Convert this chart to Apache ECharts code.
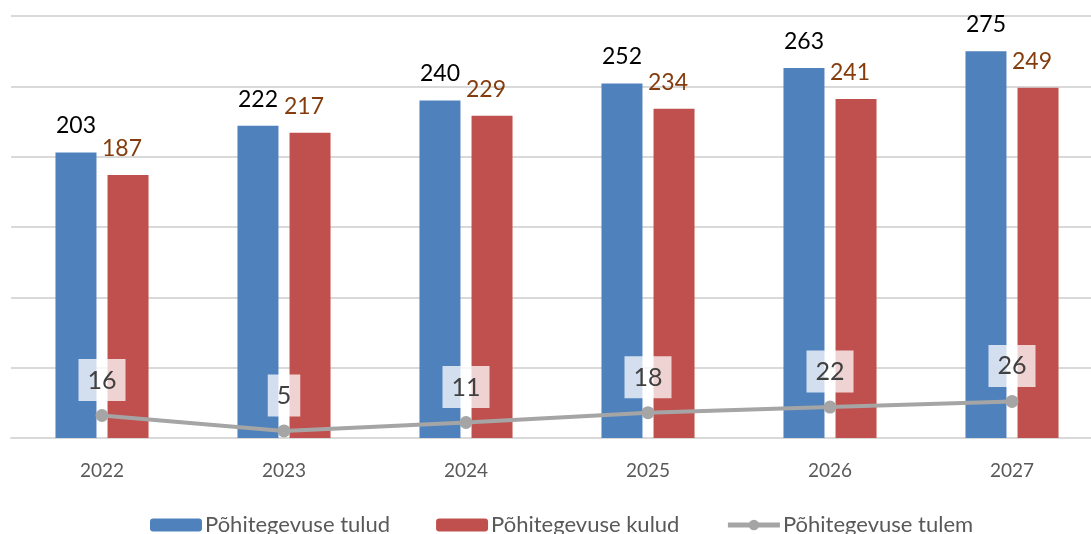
<!DOCTYPE html>
<html>
<head>
<meta charset="utf-8">
<script src="https://cdn.jsdelivr.net/npm/echarts@6/dist/echarts.min.js"></script>
<style>
  html, body { margin: 0; padding: 0; background: #fff; overflow: hidden; }
  #chart { width: 1110px; height: 534px; }
</style>
</head>
<body>
<div id="chart"></div>
<script>
// aastad
const years = ['2022', '2023', '2024', '2025', '2026', '2027']
// põhitegevuse tulud / kulud / tulem
const tulud = [203, 222, 240, 252, 263, 275]
const kulud = [187, 217, 229, 234, 241, 249]
const tulem = [16, 5, 11, 18, 22, 26]

const font = 'Lato, "Open Sans", sans-serif'

const chart = echarts.init(document.getElementById('chart'))
chart.setOption({
  animation: false,
  textStyle: { fontFamily: font },
  grid: { left: 11, top: 16, right: 7, height: 422, containLabel: false },
  legend: {
    bottom: -7,
    left: 145,
    itemWidth: 52,
    itemHeight: 13,
    itemGap: 46,
    textStyle: { fontSize: 22, color: '#595959', fontFamily: font, padding: [0, 0, 0, -2] },
    data: [
      'Põhitegevuse tulud',
      'Põhitegevuse kulud',
      { name: 'Põhitegevuse tulem', lineStyle: { width: 5 } }
    ]
  },
  xAxis: {
    type: 'category',
    data: years,
    axisLine: { lineStyle: { color: '#d9d9d9', width: 2 } },
    axisTick: { show: false },
    axisLabel: { fontSize: 19, color: '#595959', margin: 23 }
  },
  yAxis: {
    type: 'value',
    min: 0,
    max: 300,
    interval: 50,
    axisLabel: { show: false },
    axisLine: { show: false },
    axisTick: { show: false },
    splitLine: { lineStyle: { color: '#d9d9d9', width: 2 } }
  },
  series: [
    {
      name: 'Põhitegevuse tulud',
      type: 'bar',
      data: tulud,
      barWidth: 41,
      barGap: '27%',
      itemStyle: { color: '#4f81bd' },
      label: { show: true, position: 'top', distance: 15, fontSize: 23, color: '#000' }
    },
    {
      name: 'Põhitegevuse kulud',
      type: 'bar',
      data: kulud,
      barWidth: 41,
      itemStyle: { color: '#c0504d' },
      label: { show: true, position: 'top', distance: 15, offset: [-6, 0], fontSize: 23, color: '#843c0c' }
    },
    {
      name: 'Põhitegevuse tulem',
      type: 'line',
      data: tulem,
      symbol: 'circle',
      symbolSize: 13,
      lineStyle: { color: '#a5a5a5', width: 4 },
      itemStyle: { color: '#a5a5a5' },
      label: {
        show: true,
        position: 'top',
        distance: 8,
        fontSize: 25,
        color: '#404040',
        backgroundColor: 'rgba(255,255,255,0.75)',
        padding: [9, 9, 8, 9]
      },
      z: 5
    }
  ]
})
</script>
</body>
</html>
